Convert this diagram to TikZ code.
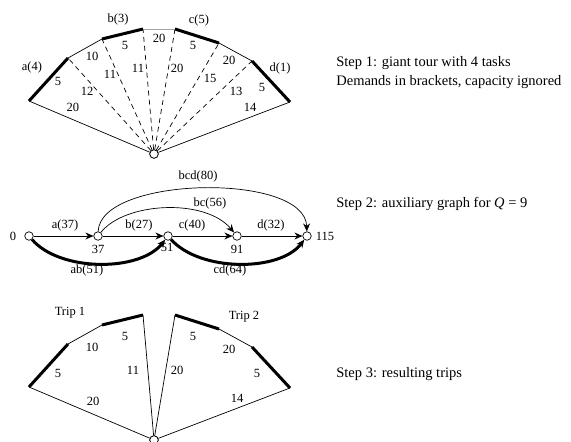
\documentclass[tikz,border=0pt]{standalone}
\usepackage{fontspec}
\setmainfont{Liberation Serif}
\usetikzlibrary{arrows.meta}

\begin{document}
\begin{tikzpicture}[x=1pt,y=-1pt,line width=0.7pt]
          \tikzstyle{every node}+=[inner sep=0pt,font=\fontsize{12.5}{14}\selectfont]
          \tikzstyle{depot}=[circle,draw,fill=white,minimum size=8.5pt,line width=0.7pt]
          \tikzstyle{task}=[line width=3pt]
          \tikzstyle{deadhead}=[dash pattern=on 5pt off 4pt]
          \tikzstyle{arc}=[-{Stealth[length=8pt,width=7pt]}]
          \tikzstyle{steptext}=[anchor=west,font=\fontsize{14.5}{17}\selectfont]
          \useasboundingbox (0,0) rectangle (571,442);
          % step 1: giant tour
          \coordinate (a1) at (29,101);
          \coordinate (a2) at (68,58);
          \coordinate (b1) at (102,39);
          \coordinate (b2) at (143,29);
          \coordinate (c1) at (175,29);
          \coordinate (c2) at (219,43);
          \coordinate (d1) at (252,61);
          \coordinate (d2) at (290,102);
          \node [depot] (dep1) at (154,154) {};
          \draw [deadhead] (dep1) -- (a2);
          \draw [deadhead] (dep1) -- (b1);
          \draw [deadhead] (dep1) -- (b2);
          \draw [deadhead] (dep1) -- (c1);
          \draw [deadhead] (dep1) -- (c2);
          \draw [deadhead] (dep1) -- (d1);
          \draw (dep1) -- (a1);
          \draw (a2) -- (b1);
          \draw [gray!70] (b2) -- (c1);
          \draw (c2) -- (d1);
          \draw (d2) -- (dep1);
          \draw [task] (a1) -- (a2);
          \draw [task] (b1) -- (b2);
          \draw [task] (c1) -- (c2);
          \draw [task] (d1) -- (d2);
          \node [depot] at (dep1) {};
          \node (la) at (32,67) {a(4)};
          \node (lb) at (118,19) {b(3)};
          \node (lc) at (199,20) {c(5)};
          \node (ld) at (280,68) {d(1)};
          \node (w1) at (58,81) {5};
          \node (w2) at (92,56) {10};
          \node (w3) at (125,45) {5};
          \node (w4) at (159,38) {20};
          \node (w5) at (193,45) {5};
          \node (w6) at (229,60) {20};
          \node (w7) at (262,87) {5};
          \node (w8) at (73,107) {20};
          \node (w9) at (250,107) {14};
          \node (w10) at (87,91) {12};
          \node (w11) at (110,74) {11};
          \node (w12) at (138,68) {11};
          \node (w13) at (177,68) {20};
          \node (w14) at (210,78) {15};
          \node (w15) at (236,91) {13};
          \node [steptext] (s1) at (336,63) {Step 1: giant tour with 4 tasks};
          \node [steptext] (s1b) at (336,82) {Demands in brackets, capacity ignored};
          % step 2: auxiliary graph
          \node [depot] (n0) at (29,236) {};
          \node [depot] (n37) at (98,236) {};
          \node [depot] (n51) at (168,236) {};
          \node [depot] (n91) at (237,236) {};
          \node [depot] (n115) at (307,236) {};
          \draw [arc] (n0) -- (n37);
          \draw [arc] (n37) -- (n51);
          \draw [arc] (n51) -- (n91);
          \draw [arc] (n91) -- (n115);
          \draw [arc] (n37) .. controls (125,202) and (205,198) .. (n91);
          \draw [arc] (n37) .. controls (100,176) and (305,172) .. (n115);
          \draw [arc,task] (n0) .. controls (60,272) and (140,272) .. (n51);
          \draw [arc,task] (n51) .. controls (200,272) and (280,272) .. (n115);
          \node (l0) at (13,236) {0};
          \node (l37) at (98,249) {37};
          \node (l51) at (167,247) {51};
          \node (l91) at (237,249) {91};
          \node (l115) at (325,236) {115};
          \node (ea) at (65,225) {a(37)};
          \node (eb) at (139,225) {b(27)};
          \node (ec) at (192,225) {c(40)};
          \node (ed) at (271,225) {d(32)};
          \node (ebc) at (210,203) {bc(56)};
          \node (ebcd) at (198,176) {bcd(80)};
          \node (eab) at (87,270) {ab(51)};
          \node (ecd) at (230,270) {cd(64)};
          \node [steptext] (s2) at (336,204) {Step 2: auxiliary graph for \textit{Q} = 9};
          % step 3: resulting trips
          \coordinate (ta1) at (29,387);
          \coordinate (ta2) at (68,344);
          \coordinate (tb1) at (102,325);
          \coordinate (tb2) at (143,315);
          \coordinate (tc1) at (175,315);
          \coordinate (tc2) at (219,329);
          \coordinate (td1) at (252,347);
          \coordinate (td2) at (290,388);
          \node [depot] (dep3) at (154,440) {};
          \draw (dep3) -- (ta1);
          \draw (ta2) -- (tb1);
          \draw (tb2) -- (dep3);
          \draw (dep3) -- (tc1);
          \draw (tc2) -- (td1);
          \draw (td2) -- (dep3);
          \draw [task] (ta1) -- (ta2);
          \draw [task] (tb1) -- (tb2);
          \draw [task] (tc1) -- (tc2);
          \draw [task] (td1) -- (td2);
          \node [depot] at (dep3) {};
          \node (trip1) at (70,313) {Trip 1};
          \node (trip2) at (244,317) {Trip 2};
          \node (t1) at (58,373) {5};
          \node (t2) at (92,347) {10};
          \node (t3) at (125,336) {5};
          \node (t4) at (133,370) {11};
          \node (t5) at (177,370) {20};
          \node (t6) at (193,336) {5};
          \node (t7) at (229,349) {20};
          \node (t8) at (257,373) {5};
          \node (t9) at (93,401) {20};
          \node (t10) at (237,398) {14};
          \node [steptext] (s3) at (336,374) {Step 3: resulting trips};
     \end{tikzpicture}
\end{document}
